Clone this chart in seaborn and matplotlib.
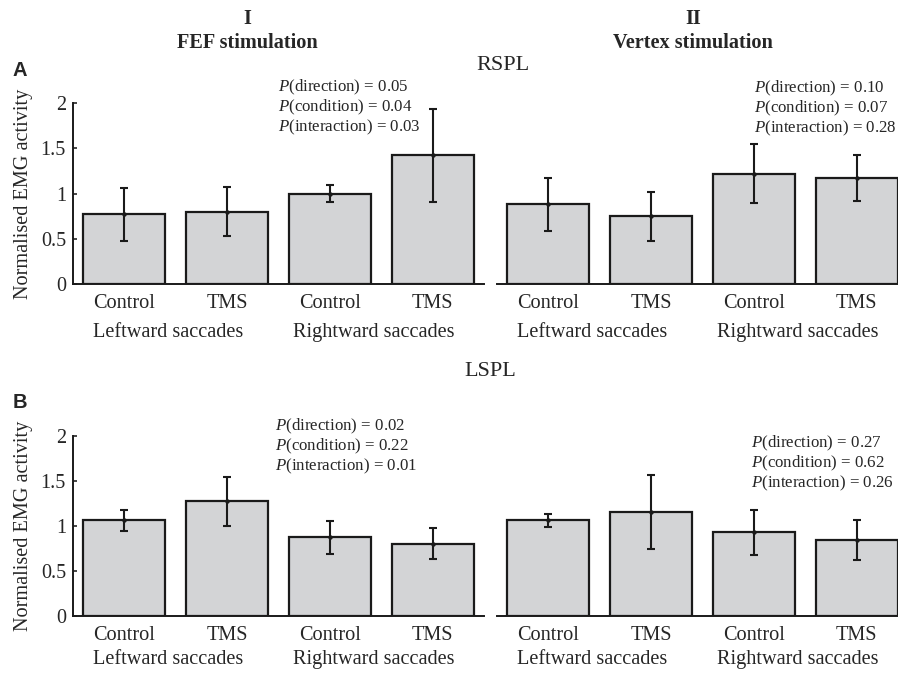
import matplotlib
matplotlib.use("Agg")
import matplotlib.pyplot as plt
import matplotlib.transforms as mtransforms
import seaborn as sns
import pandas as pd

# ---------------- data ----------------
conditions = ["Control", "TMS", "Control", "TMS"]
bar_directions = ["Leftward", "Leftward", "Rightward", "Rightward"]
group_labels = ["Leftward saccades", "Rightward saccades"]

rspl_fef_mean = [0.77, 0.80, 1.00, 1.42]
rspl_fef_err = [0.29, 0.27, 0.095, 0.515]
rspl_vertex_mean = [0.88, 0.75, 1.22, 1.17]
rspl_vertex_err = [0.29, 0.27, 0.33, 0.25]
lspl_fef_mean = [1.06, 1.27, 0.87, 0.80]
lspl_fef_err = [0.12, 0.27, 0.185, 0.175]
lspl_vertex_mean = [1.06, 1.15, 0.93, 0.84]
lspl_vertex_err = [0.07, 0.41, 0.25, 0.22]

p_rspl_fef = ["0.05", "0.04", "0.03"]
p_rspl_vertex = ["0.10", "0.07", "0.28"]
p_lspl_fef = ["0.02", "0.22", "0.01"]
p_lspl_vertex = ["0.27", "0.62", "0.26"]
p_terms = ["direction", "condition", "interaction"]

yticks = [0, 0.5, 1, 1.5, 2]
ytick_labels = ["0", "0.5", "1", "1.5", "2"]

# ---------------- style ----------------
sns.set_style("white")
plt.rcParams["font.family"] = ["Liberation Serif", "DejaVu Serif"]
plt.rcParams["mathtext.fontset"] = "custom"
plt.rcParams["mathtext.rm"] = "Liberation Serif"
plt.rcParams["mathtext.it"] = "Liberation Serif:italic"

BAR_COLOR = "#d3d4d6"
FS = 14.6
PFS = 12.2

fig = plt.figure(figsize=(8.98, 6.73), dpi=100)
W, H = 898, 673


def ax_rect(x0, x1, y_top, y_bot):
    return [x0 / W, 1 - y_bot / H, (x1 - x0) / W, (y_bot - y_top) / H]


def draw_panel(ax, means, errs, pvals, px, py, show_y, group_y):
    ids = [f"{d}_{c}" for d, c in zip(bar_directions, conditions)]
    df = pd.DataFrame({"bar": ids, "value": means})
    sns.barplot(data=df, x="bar", y="value", order=ids, color=BAR_COLOR,
                edgecolor="#1a1a1a", linewidth=1.6, width=0.8,
                errorbar=None, saturation=1, ax=ax)
    ax.errorbar(range(len(means)), means, yerr=errs, fmt="o", color="#1a1a1a",
                markersize=2.2, elinewidth=1.5, capsize=3, capthick=1.5)
    ax.set_xlim(-0.5, 3.5)
    ax.set_ylim(0, 2)
    ax.set_xlabel("")
    ax.set_ylabel("")
    ax.set_xticks(range(4))
    ax.set_xticklabels(conditions, fontsize=FS)
    ax.tick_params(axis="x", length=0, pad=7.5)
    ax.spines["top"].set_visible(False)
    ax.spines["right"].set_visible(False)
    ax.spines["bottom"].set_linewidth(1.4)
    ax.spines["bottom"].set_color("#1a1a1a")
    if show_y:
        ax.set_yticks(yticks)
        ax.set_yticklabels(ytick_labels, fontsize=FS)
        ax.tick_params(axis="y", direction="in", length=3, width=1.2, pad=5,
                       left=True)
        ax.spines["left"].set_linewidth(1.4)
        ax.spines["left"].set_color("#1a1a1a")
        ax.set_ylabel("Normalised EMG activity", fontsize=FS)
        ax.yaxis.set_label_coords(-40 / 411, 0.5)
    else:
        ax.spines["left"].set_visible(False)
        ax.set_yticks([])
    trans = mtransforms.blended_transform_factory(ax.transData, ax.transAxes)
    for xg, lab in zip([0.43, 2.43], group_labels):
        ax.text(xg, group_y, lab, transform=trans, ha="center", va="center",
                fontsize=FS)
    for i, (term, pv) in enumerate(zip(p_terms, pvals)):
        fig.text(px / W, 1 - (py + 20 * i) / H, f"$P$({term}) = {pv}",
                 ha="left", va="center", fontsize=PFS)


ax1 = fig.add_axes(ax_rect(73, 484, 103, 284))
ax2 = fig.add_axes(ax_rect(497, 908, 103, 284))
ax3 = fig.add_axes(ax_rect(73, 484, 435.7, 615.7))
ax4 = fig.add_axes(ax_rect(497, 908, 435.7, 615.7))

draw_panel(ax1, rspl_fef_mean, rspl_fef_err, p_rspl_fef, 278, 87, True, -0.27)
draw_panel(ax2, rspl_vertex_mean, rspl_vertex_err, p_rspl_vertex, 754, 88, False, -0.27)
draw_panel(ax3, lspl_fef_mean, lspl_fef_err, p_lspl_fef, 275, 426, True, -0.245)
draw_panel(ax4, lspl_vertex_mean, lspl_vertex_err, p_lspl_vertex, 751, 443, False, -0.245)

# column headers
fig.text(247 / W, 1 - 19 / H, "I", ha="center", va="center", fontsize=FS,
         fontweight="bold")
fig.text(247 / W, 1 - 43 / H, "FEF stimulation", ha="center", va="center",
         fontsize=FS, fontweight="bold")
fig.text(693 / W, 1 - 19 / H, "II", ha="center", va="center", fontsize=FS,
         fontweight="bold")
fig.text(693 / W, 1 - 43 / H, "Vertex stimulation", ha="center", va="center",
         fontsize=FS, fontweight="bold")
fig.text(503 / W, 1 - 65 / H, "RSPL", ha="center", va="center", fontsize=16)
fig.text(490 / W, 1 - 372 / H, "LSPL", ha="center", va="center", fontsize=16)
fig.text(20 / W, 1 - 71 / H, "A", ha="center", va="center", fontsize=14.5,
         fontweight="bold", family=["Liberation Sans", "DejaVu Sans"])
fig.text(20 / W, 1 - 402 / H, "B", ha="center", va="center", fontsize=14.5,
         fontweight="bold", family=["Liberation Sans", "DejaVu Sans"])

fig.savefig("out.png", dpi=100)
